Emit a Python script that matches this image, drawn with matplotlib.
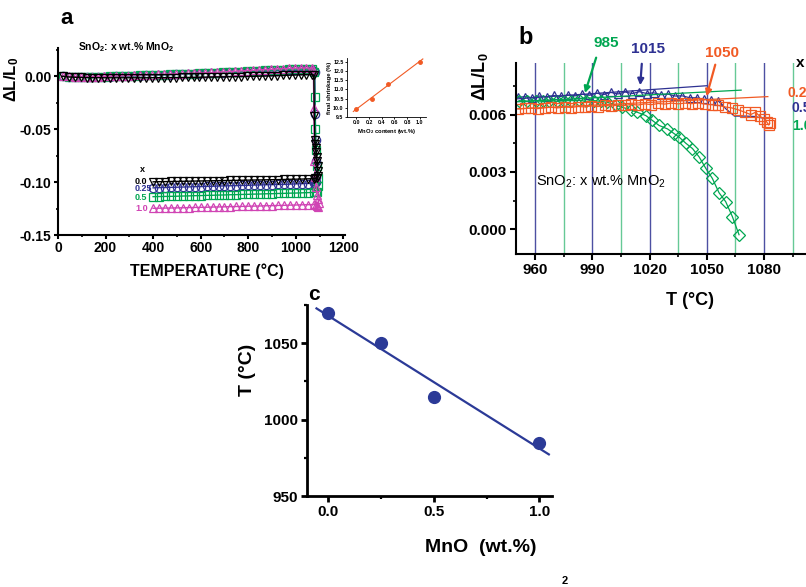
import numpy as np
import matplotlib
matplotlib.use("Agg")
import matplotlib.pyplot as plt
from matplotlib.ticker import MultipleLocator, FormatStrFormatter

plt.rcParams['font.family'] = ['Liberation Sans', 'DejaVu Sans']
plt.rcParams['font.weight'] = 'bold'
plt.rcParams['axes.labelweight'] = 'bold'
plt.rcParams['mathtext.default'] = 'regular'

W, H = 806, 587

BLUE = '#2e3192'
GREEN = '#00a651'
MAGENTA = '#d044b4'
RED = '#f15a24'
NAVY = '#2b3a97'

# ---------------- panel a : dilatometry, full cycle ----------------
T_heat = np.arange(20, 1071, 25)
black_heat = [-0.0003, -0.0008, -0.0011, -0.0013, -0.0014, -0.0015, -0.0015, -0.0016, -0.0016, -0.0016,
              -0.0016, -0.0016, -0.0016, -0.0016, -0.0016, -0.0015, -0.0015, -0.0015, -0.0014, -0.0014,
              -0.0013, -0.0013, -0.0012, -0.0011, -0.0010, -0.0009, -0.0008, -0.0007, -0.0006, -0.0005,
              -0.0004, -0.0003, -0.0002, -0.0001, 0.0000, 0.0002, 0.0004, 0.0006, 0.0008, 0.0010,
              0.0012, 0.0013, 0.0014]
blue_heat = [0.0000, -0.0004, -0.0007, -0.0008, -0.0008, -0.0007, -0.0006, -0.0005, -0.0004, -0.0002,
             -0.0001, 0.0000, 0.0002, 0.0004, 0.0006, 0.0008, 0.0010, 0.0012, 0.0014, 0.0016,
             0.0018, 0.0020, 0.0022, 0.0024, 0.0026, 0.0028, 0.0030, 0.0032, 0.0034, 0.0036,
             0.0038, 0.0040, 0.0042, 0.0044, 0.0046, 0.0048, 0.0050, 0.0052, 0.0054, 0.0055,
             0.0056, 0.0056, 0.0055]
green_heat = [0.0000, -0.0004, -0.0007, -0.0008, -0.0008, -0.0007, -0.0006, -0.0005, -0.0003, -0.0001,
              0.0000, 0.0002, 0.0004, 0.0006, 0.0008, 0.0010, 0.0012, 0.0014, 0.0016, 0.0018,
              0.0020, 0.0022, 0.0024, 0.0026, 0.0028, 0.0030, 0.0032, 0.0034, 0.0036, 0.0038,
              0.0041, 0.0044, 0.0047, 0.0050, 0.0053, 0.0056, 0.0059, 0.0062, 0.0065, 0.0067,
              0.0068, 0.0068, 0.0066]
magenta_heat = [0.0000, -0.0003, -0.0006, -0.0007, -0.0007, -0.0006, -0.0005, -0.0003, -0.0001, 0.0001,
                0.0003, 0.0005, 0.0007, 0.0009, 0.0011, 0.0013, 0.0015, 0.0017, 0.0019, 0.0021,
                0.0023, 0.0025, 0.0027, 0.0029, 0.0031, 0.0034, 0.0037, 0.0040, 0.0043, 0.0046,
                0.0049, 0.0052, 0.0055, 0.0058, 0.0061, 0.0064, 0.0067, 0.0070, 0.0073, 0.0075,
                0.0076, 0.0076, 0.0074]

black_drop_T = [1076, 1078, 1080, 1082, 1084, 1086, 1088, 1090, 1092, 1093, 1092, 1088, 1082]
black_drop = [0.0010, -0.0380, -0.0600, -0.0640, -0.0680, -0.0720, -0.0760, -0.0800, -0.0850, -0.0900,
              -0.0940, -0.0960, -0.0966]
blue_drop_T = [1076, 1080, 1082, 1084, 1086, 1087, 1085, 1082]
blue_drop = [0.0050, 0.0040, -0.0360, -0.0600, -0.0800, -0.0950, -0.1000, -0.1010]
green_drop_T = [1078, 1080, 1082, 1085, 1088, 1092, 1094, 1090, 1084]
green_drop = [0.0040, -0.0200, -0.0500, -0.0700, -0.0850, -0.0960, -0.1040, -0.1090, -0.1095]
magenta_drop_T = [1074, 1076, 1078, 1082, 1086, 1090, 1094, 1096, 1094, 1090, 1084]
magenta_drop = [0.0060, -0.0300, -0.0800, -0.0950, -0.1050, -0.1120, -0.1160, -0.1200, -0.1240, -0.1230,
                -0.1215]

T_cool = np.arange(1075, 399, -25)
black_cool = [-0.0968, -0.0970, -0.0972, -0.0973, -0.0974, -0.0976, -0.0977, -0.0978, -0.0979, -0.0980,
              -0.0981, -0.0982, -0.0983, -0.0984, -0.0985, -0.0986, -0.0987, -0.0988, -0.0989, -0.0990,
              -0.0991, -0.0992, -0.0993, -0.0994, -0.0995, -0.0996, -0.0997, -0.0998]
blue_cool = [-0.1012, -0.1014, -0.1016, -0.1018, -0.1020, -0.1022, -0.1023, -0.1025, -0.1026, -0.1028,
             -0.1029, -0.1031, -0.1032, -0.1034, -0.1035, -0.1037, -0.1038, -0.1040, -0.1041, -0.1043,
             -0.1044, -0.1046, -0.1047, -0.1049, -0.1050, -0.1052, -0.1053, -0.1055]
green_cool = [-0.1098, -0.1100, -0.1102, -0.1104, -0.1105, -0.1107, -0.1108, -0.1110, -0.1111, -0.1113,
              -0.1114, -0.1116, -0.1117, -0.1119, -0.1120, -0.1122, -0.1123, -0.1125, -0.1126, -0.1128,
              -0.1129, -0.1131, -0.1132, -0.1134, -0.1135, -0.1136, -0.1137, -0.1138]
magenta_cool = [-0.1212, -0.1214, -0.1215, -0.1217, -0.1218, -0.1220, -0.1221, -0.1223, -0.1224, -0.1226,
                -0.1227, -0.1228, -0.1230, -0.1231, -0.1232, -0.1234, -0.1235, -0.1236, -0.1238, -0.1239,
                -0.1240, -0.1241, -0.1243, -0.1244, -0.1245, -0.1246, -0.1247, -0.1248]

# inset: final shrinkage vs MnO2 content
inset_x = [0.0, 0.25, 0.5, 1.0]
inset_y = [9.95, 10.5, 11.3, 12.5]

# ---------------- panel b : zoom near onset ----------------
b_blue_T = [951.0, 954.7, 958.5, 962.2, 966.0, 969.7, 973.5, 977.2, 981.0, 984.7, 988.5, 992.2, 996.0,
            999.7, 1003.5, 1007.2, 1011.0, 1014.7, 1018.5, 1022.2, 1026.0, 1029.7, 1033.5, 1037.2,
            1041.0, 1044.7, 1048.5, 1052.2, 1056.0]
b_blue = [0.00690, 0.00694, 0.00688, 0.00697, 0.00692, 0.00700, 0.00695, 0.00703, 0.00698, 0.00707,
          0.00701, 0.00712, 0.00705, 0.00716, 0.00708, 0.00718, 0.00710, 0.00720, 0.00710, 0.00714,
          0.00704, 0.00707, 0.00697, 0.00698, 0.00688, 0.00688, 0.00680, 0.00678, 0.00672]
b_blue_tail_T = [1056.0, 1060.0, 1064.5, 1070.0, 1075.0, 1080.0]
b_blue_tail = [0.00672, 0.00630, 0.00592, 0.00592, 0.00590, 0.00580]

b_green_T = [951.6, 956.0, 960.4, 963.9, 967.4, 971.7, 975.2, 978.7, 983.1, 986.6, 990.9, 994.4, 997.9,
             1002.3, 1005.8, 1010.1, 1013.6, 1018.0, 1021.5, 1025.0, 1029.4, 1032.9, 1035.5, 1039.0,
             1042.5, 1046.0, 1049.5, 1052.9, 1056.4, 1059.9, 1063.4, 1066.9]
b_green = [0.00673, 0.00669, 0.00673, 0.00669, 0.00673, 0.00669, 0.00673, 0.00673, 0.00676, 0.00669,
           0.00673, 0.00669, 0.00664, 0.00650, 0.00638, 0.00625, 0.00612, 0.00595, 0.00569, 0.00543,
           0.00525, 0.00500, 0.00482, 0.00450, 0.00422, 0.00378, 0.00318, 0.00266, 0.00191, 0.00144,
           0.00066, -0.00029]

b_red_T = [951.0, 954.5, 958.0, 961.5, 965.0, 968.5, 972.0, 975.5, 979.0, 982.5, 986.0, 989.5, 993.0,
           996.5, 1000.0, 1003.5, 1007.0, 1010.5, 1014.0, 1017.5, 1021.0, 1024.5, 1028.0, 1031.5,
           1035.0, 1038.5, 1042.0, 1045.5, 1049.0, 1052.5, 1056.0, 1059.5, 1063.0, 1066.5, 1070.0,
           1073.0, 1075.5, 1078.0, 1080.0, 1081.5, 1082.5, 1083.0]
b_red = [0.00630, 0.00632, 0.00634, 0.00631, 0.00636, 0.00638, 0.00635, 0.00640, 0.00637, 0.00642,
         0.00640, 0.00645, 0.00642, 0.00648, 0.00645, 0.00650, 0.00648, 0.00653, 0.00650, 0.00656,
         0.00652, 0.00658, 0.00655, 0.00660, 0.00656, 0.00660, 0.00657, 0.00661, 0.00655, 0.00652,
         0.00648, 0.00640, 0.00635, 0.00625, 0.00612, 0.00600, 0.00612, 0.00590, 0.00578, 0.00560,
         0.00545, 0.00555]

# tangent lines (T pair, y pair)
tan_blue = ([950, 1050], [0.00682, 0.00751])
tan_green = ([950, 1068], [0.00667, 0.00728])
tan_red = ([951, 1082], [0.00630, 0.00694])

# onset annotations: label, T, y, colour
onsets = [('985', 985.7, 0.00699, GREEN), ('1015', 1015.0, 0.00739, BLUE), ('1050', 1049.5, 0.00682, RED)]

# ---------------- panel c : onset temperature vs MnO ----------------
mno = [0.0, 0.25, 0.5, 1.0]
t_onset = [1070, 1050, 1015, 985]


def px_axes(left, top, right, bottom):
    return fig.add_axes([left / W, 1 - bottom / H, (right - left) / W, (bottom - top) / H])


def style(ax, lw=1.5, length=4, pad=2.5):
    for s in ['top', 'right']:
        ax.spines[s].set_visible(False)
    for s in ['left', 'bottom']:
        ax.spines[s].set_linewidth(lw)
    ax.tick_params(which='major', direction='out', length=length, width=lw, pad=pad)
    ax.tick_params(which='minor', direction='out', length=length * 0.6, width=lw * 0.8)


fig = plt.figure(figsize=(W / 100, H / 100), dpi=100)

# ===== a =====
ax_a = px_axes(58, 48, 345, 235)
style(ax_a, length=3, pad=1.5)
series_a = [
    (black_heat, black_drop_T, black_drop, black_cool, 'black', 'v'),
    (magenta_heat, magenta_drop_T, magenta_drop, magenta_cool, MAGENTA, '^'),
    (green_heat, green_drop_T, green_drop, green_cool, GREEN, 's'),
    (blue_heat, blue_drop_T, blue_drop, blue_cool, BLUE, 'o'),
]
# draw back to front so the black curve ends up on top
for heat, dT, drop, cool, col, mk in series_a[::-1]:
    T_all = np.concatenate([T_heat, dT, T_cool])
    y_all = np.concatenate([heat, drop, cool])
    ax_a.plot(T_all, y_all, color=col, lw=1.0, marker=mk, ms=6, mfc='none', mew=0.9)

ax_a.set_xlim(0, 1207)
ax_a.set_ylim(-0.15, 0.0265)
ax_a.xaxis.set_major_locator(MultipleLocator(200))
ax_a.xaxis.set_minor_locator(MultipleLocator(100))
ax_a.yaxis.set_major_locator(MultipleLocator(0.05))
ax_a.yaxis.set_minor_locator(MultipleLocator(0.025))
ax_a.yaxis.set_major_formatter(FormatStrFormatter('%.2f'))
ax_a.tick_params(labelsize=10)
ax_a.set_xlabel('TEMPERATURE (°C)', fontsize=11.5)
ax_a.xaxis.set_label_coords(0.52, -0.15)
ax_a.set_ylabel('ΔL/L$_0$', fontsize=12)
ax_a.yaxis.set_label_coords(-0.13, 0.83)

fig.text(67 / W, 1 - 19 / H, 'a', fontsize=16, ha='center', va='center')
fig.text(78 / W, 1 - 47 / H, 'SnO$_2$: x wt.% MnO$_2$', fontsize=7.5, ha='left', va='center')
fig.text(142 / W, 1 - 170 / H, 'x', fontsize=6.5, ha='center', va='center')
for lab, yy, col in [('0.0', 181, 'black'), ('0.25', 189, BLUE), ('0.5', 198, GREEN), ('1.0', 209, MAGENTA)]:
    fig.text(135 / W, 1 - yy / H, lab, fontsize=6.5, color=col, ha='left', va='center')

# inset
ax_in = px_axes(347, 58, 426, 117)
style(ax_in, lw=0.6)
ax_in.tick_params(which='major', length=1.5, labelsize=3.8, pad=1)
ax_in.tick_params(which='minor', length=1)
fit_in = np.polyfit(inset_x, inset_y, 1)
xx = np.array([-0.05, 1.05])
ax_in.plot(xx, np.polyval(fit_in, xx), color=RED, lw=0.8)
ax_in.plot(inset_x, inset_y, 'o', color=RED, ms=2.5)
ax_in.set_xlim(-0.15, 1.1)
ax_in.set_ylim(9.5, 12.7)
ax_in.xaxis.set_major_locator(MultipleLocator(0.2))
ax_in.yaxis.set_major_locator(MultipleLocator(0.5))
ax_in.xaxis.set_major_formatter(FormatStrFormatter('%.1f'))
ax_in.yaxis.set_major_formatter(FormatStrFormatter('%.1f'))
ax_in.set_xlabel('MnO$_2$ content (wt.%)', fontsize=4.2, labelpad=1)
ax_in.set_ylabel('final shrinkage (%)', fontsize=4.2, labelpad=1)

# ===== b =====
ax_b = px_axes(516, 63, 806, 254)
style(ax_b)
for t in [960, 990, 1020, 1050, 1080]:
    ax_b.axvline(t, color=BLUE, lw=1.0, alpha=0.85, zorder=0)
for t in [975, 1005, 1035, 1065, 1095]:
    ax_b.axvline(t, color=GREEN, lw=1.0, alpha=0.6, zorder=0)

ax_b.plot(b_blue_tail_T, b_blue_tail, color=BLUE, lw=0.9)
ax_b.plot(b_blue_T, b_blue, color=BLUE, lw=0.9, marker='^', ms=6, mfc='none', mew=0.9)
ax_b.plot(b_green_T, b_green, color=GREEN, lw=0.9, marker='D', ms=6, mfc='none', mew=0.9)
ax_b.plot(b_red_T, b_red, color=RED, lw=0.9, marker='s', ms=6.5, mfc='none', mew=0.9)
for (tx, ty), col in [(tan_blue, BLUE), (tan_green, GREEN), (tan_red, RED)]:
    ax_b.plot(tx, ty, color=col, lw=0.9)

label_pos = {'985': (606, 43), '1015': (648, 49), '1050': (722, 53)}
tail_pos = {'985': (597, 55), '1015': (642, 61), '1050': (716, 62)}
for lab, tt, yy, col in onsets:
    lx, ly = label_pos[lab]
    fig.text(lx / W, 1 - ly / H, lab, fontsize=11, color=col, ha='center', va='center')
    tx, ty = tail_pos[lab]
    ax_b.annotate('', xy=(tt, yy), xycoords='data',
                  xytext=(tx / W, 1 - ty / H), textcoords='figure fraction',
                  arrowprops=dict(arrowstyle='-|>', color=col, lw=1.6, mutation_scale=9),
                  annotation_clip=False)

ax_b.set_xlim(950, 1102)
ax_b.set_ylim(-0.0013, 0.0087)
ax_b.xaxis.set_major_locator(MultipleLocator(30))
ax_b.xaxis.set_minor_locator(MultipleLocator(15))
ax_b.yaxis.set_major_locator(MultipleLocator(0.003))
ax_b.yaxis.set_minor_locator(MultipleLocator(0.0015))
ax_b.yaxis.set_major_formatter(FormatStrFormatter('%.3f'))
ax_b.tick_params(labelsize=11)
ax_b.set_xlabel('T (°C)', fontsize=13)
ax_b.xaxis.set_label_coords(0.6, -0.2)
ax_b.set_ylabel('ΔL/L$_0$', fontsize=13)
ax_b.yaxis.set_label_coords(-0.09, 0.93)
ax_b.text(0.07, 0.38, 'SnO$_2$: x wt.% MnO$_2$', transform=ax_b.transAxes, fontsize=10.5,
          fontweight='normal', ha='left', va='center')

fig.text(526 / W, 1 - 38 / H, 'b', fontsize=17, ha='center', va='center')
# right-hand legend is cut by the figure edge, as in the original
fig.text(796 / W, 1 - 63 / H, 'x', fontsize=11, ha='left', va='center')
for lab, yy, col, xx0 in [('0.25', 93, RED, 787), ('0.5', 108, BLUE, 792), ('1.0', 126, GREEN, 792)]:
    fig.text(xx0 / W, 1 - yy / H, lab, fontsize=10, color=col, ha='left', va='center')

# ===== c =====
ax_c = px_axes(307, 305, 552, 496)
style(ax_c, lw=2)
fit_c = np.polyfit(mno, t_onset, 1)
xc = np.array([-0.055, 1.045])
ax_c.plot(xc, np.polyval(fit_c, xc), color=NAVY, lw=1.6)
ax_c.plot(mno, t_onset, 'o', color=NAVY, ms=8.5)
ax_c.set_xlim(-0.1, 1.06)
ax_c.set_ylim(950, 1075)
ax_c.xaxis.set_major_locator(MultipleLocator(0.5))
ax_c.xaxis.set_minor_locator(MultipleLocator(0.25))
ax_c.yaxis.set_major_locator(MultipleLocator(50))
ax_c.yaxis.set_minor_locator(MultipleLocator(25))
ax_c.xaxis.set_major_formatter(FormatStrFormatter('%.1f'))
ax_c.tick_params(labelsize=11)
ax_c.set_xlabel('MnO  (wt.%)', fontsize=14)
ax_c.xaxis.set_label_coords(0.71, -0.225)
ax_c.set_ylabel('T (°C)', fontsize=14)
ax_c.yaxis.set_label_coords(-0.21, 0.66)

fig.text(314 / W, 1 - 295 / H, 'c', fontsize=15, ha='center', va='center')
fig.text(565 / W, 1 - 581 / H, '2', fontsize=8, ha='center', va='center')

fig.savefig('out.png', dpi=100)
